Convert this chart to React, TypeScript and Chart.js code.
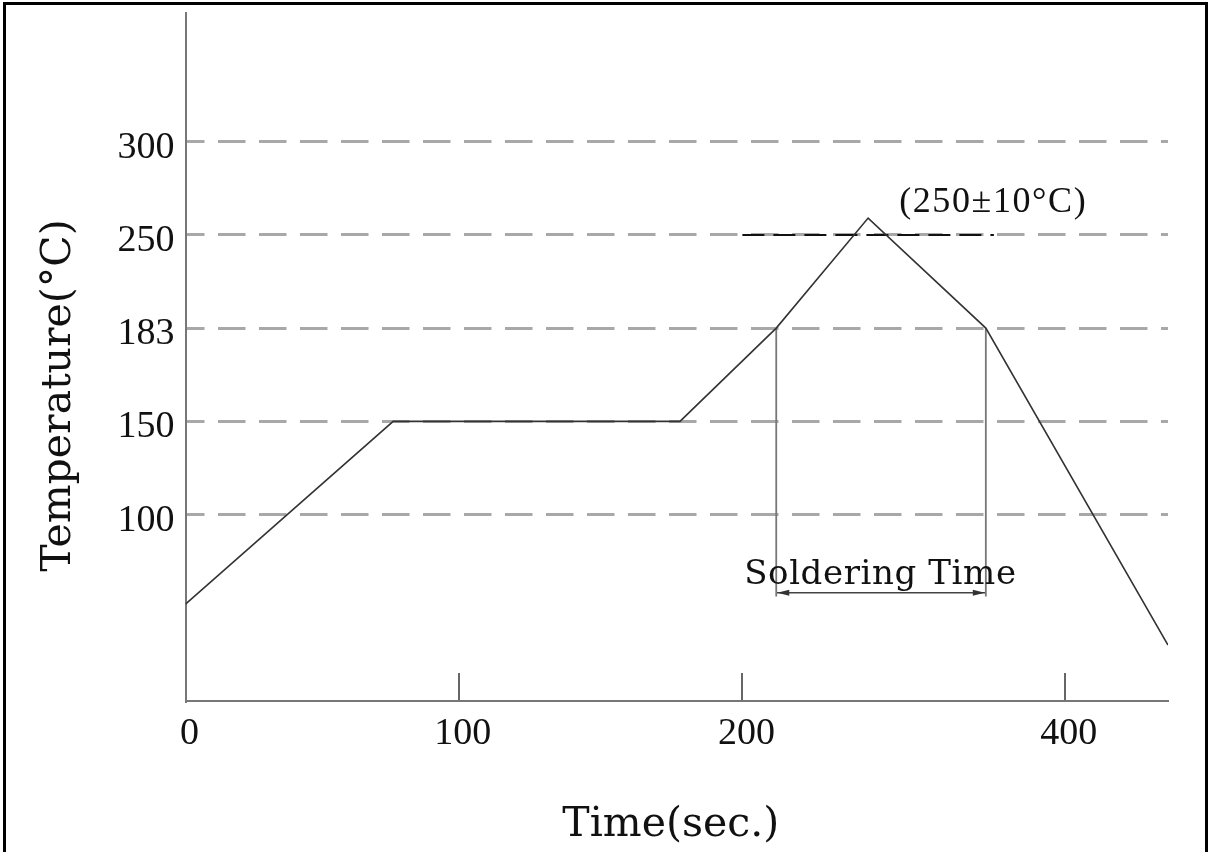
import React, { useEffect, useRef } from 'react';
import { Chart, registerables } from 'chart.js';

Chart.register(...registerables);

// ---- Reflow profile ----
const timeSec = [0, 76, 178, 221, 278, 351, 464];
const tempC = [52, 150, 150, 183, 259, 183, 30];

// ---- Axis ticks ----
const xTickValues = [0, 100, 200, 400];
const xTickLabels = ['0', '100', '200', '400'];
const yTickValues = [100, 150, 183, 250, 300];
const yTickLabels = ['100', '150', '183', '250', '300'];

// ---- Schematic (non-uniform) axis layout: slot of each labelled value along its axis ----
const xAxisSlots = [0, 1, 2.038, 3.218]; // for 0, 100, 200, 400 s
const yAnchorTemps = [0, 100, 150, 183, 250, 300];
const yAnchorSlots = [0, 2, 3, 4, 5, 6];
const xMaxSec = 464;
const yMaxTemp = 369;

// ---- Annotations ----
const peakRefTemp = 250;
const peakRefFrom = 200;
const peakRefTo = 356;
const solderFrom = 221;
const solderTo = 351;
const solderTopTemp = 183;
const markerBottomTemp = 56;
const bracketTemp = 58;
const peakLabel = '(250±10°C)';
const peakLabelSec = 355.6;
const peakLabelTemp = 262.5;
const solderLabel = 'Soldering Time';
const solderLabelSec = 285.6;
const solderLabelTemp = 63;
const xTitle = 'Time(sec.)';
const yTitle = 'Temperature(°C)';

function piecewise(v: number, from: number[], to: number[]) {
  const n = from.length;
  let i = 0;
  if (v <= from[0]) i = 0;
  else if (v >= from[n - 1]) i = n - 2;
  else {
    while (v > from[i + 1]) i++;
  }
  const t = (v - from[i]) / (from[i + 1] - from[i]);
  return to[i] + t * (to[i + 1] - to[i]);
}
const xPos = (s: number) => piecewise(s, xTickValues, xAxisSlots);
const yPos = (t: number) => piecewise(t, yAnchorTemps, yAnchorSlots);

const pts = (xs: number[], ys: number[]) => xs.map((x, i) => ({ x: xPos(x), y: yPos(ys[i]) }));

const tickFont = { family: '"Liberation Serif", serif', size: 38 };

const annotationPlugin = {
  id: 'annotations',
  beforeDraw(chart: any) {
    const ctx = chart.ctx;
    ctx.save();
    ctx.fillStyle = '#000';
    ctx.fillRect(3, 2, 3, 850);
    ctx.fillRect(3, 2, 1205, 3);
    ctx.fillRect(1205, 2, 3, 850);
    ctx.restore();
  },
  afterDraw(chart: any) {
    const ctx = chart.ctx;
    const xs = chart.scales.x;
    const ys = chart.scales.y;
    const area = chart.chartArea;
    const px = (s: number) => xs.getPixelForValue(xPos(s));
    const py = (t: number) => ys.getPixelForValue(yPos(t));

    ctx.save();
    // bracket arrowheads
    const by = py(bracketTemp);
    const x1 = px(solderFrom);
    const x2 = px(solderTo);
    ctx.fillStyle = '#333';
    ctx.beginPath();
    ctx.moveTo(x1 + 1, by);
    ctx.lineTo(x1 + 13, by - 3);
    ctx.lineTo(x1 + 13, by + 3);
    ctx.closePath();
    ctx.fill();
    ctx.beginPath();
    ctx.moveTo(x2 - 1, by);
    ctx.lineTo(x2 - 13, by - 3);
    ctx.lineTo(x2 - 13, by + 3);
    ctx.closePath();
    ctx.fill();

    ctx.fillStyle = '#111';
    ctx.textAlign = 'center';
    ctx.textBaseline = 'alphabetic';

    // soldering time label
    ctx.font = '34px "DejaVu Serif", serif';
    (ctx as any).letterSpacing = '0.6px';
    ctx.fillText(solderLabel, px(solderLabelSec), py(solderLabelTemp));

    // peak label
    ctx.font = '36px "Liberation Serif", serif';
    (ctx as any).letterSpacing = '1.6px';
    ctx.fillText(peakLabel, px(peakLabelSec), py(peakLabelTemp));

    // axis titles
    (ctx as any).letterSpacing = '0px';
    ctx.font = '41px "DejaVu Serif", serif';
    ctx.fillText(xTitle, (area.left + area.right) / 2 - 6, 836);
    ctx.translate(70, 395.5);
    ctx.rotate(-Math.PI / 2);
    ctx.fillText(yTitle, 0, 0);
    ctx.restore();
  },
};

export default function App() {
  const ref = useRef<HTMLCanvasElement | null>(null);

  useEffect(() => {
    if (!ref.current) return;
    const chart = new Chart(ref.current, {
      type: 'line',
      data: {
        datasets: [
          {
            label: 'Reflow profile',
            data: pts(timeSec, tempC),
            borderColor: '#333',
            borderWidth: 1.6,
            pointRadius: 0,
            tension: 0,
            order: 1,
          },
          {
            label: 'Peak reference',
            data: pts([peakRefFrom, peakRefTo], [peakRefTemp, peakRefTemp]),
            borderColor: '#111',
            borderWidth: 2,
            borderDash: [22, 9],
            pointRadius: 0,
            order: 2,
          },
          {
            label: 'Soldering start',
            data: pts([solderFrom, solderFrom], [solderTopTemp, markerBottomTemp]),
            borderColor: '#777',
            borderWidth: 1.8,
            pointRadius: 0,
            order: 3,
          },
          {
            label: 'Soldering end',
            data: pts([solderTo, solderTo], [solderTopTemp, markerBottomTemp]),
            borderColor: '#777',
            borderWidth: 1.8,
            pointRadius: 0,
            order: 3,
          },
          {
            label: 'Soldering time',
            data: pts([solderFrom, solderTo], [bracketTemp, bracketTemp]),
            borderColor: '#444',
            borderWidth: 1.5,
            pointRadius: 0,
            order: 3,
          },
        ],
      },
      options: {
        responsive: false,
        animation: false,
        events: [],
        layout: { padding: { left: 0, top: 13, right: 41, bottom: 0 } },
        plugins: {
          legend: { display: false },
          tooltip: { enabled: false },
          title: { display: false },
        },
        scales: {
          x: {
            type: 'linear',
            min: 0,
            max: xPos(xMaxSec),
            afterBuildTicks: (s: any) => {
              s.ticks = xTickValues.map((v) => ({ value: xPos(v) }));
            },
            afterFit: (s: any) => {
              s.height = 151;
              s.paddingLeft = 0;
              s.paddingRight = 0;
            },
            ticks: {
              callback: (_v: any, i: number) => xTickLabels[i],
              font: tickFont,
              color: '#111',
              padding: 38,
              labelOffset: 4,
              autoSkip: false,
              maxRotation: 0,
              minRotation: 0,
            },
            grid: {
              drawOnChartArea: false,
              drawTicks: true,
              tickLength: -28,
              color: '#666',
              lineWidth: 2,
            },
            border: { display: true, color: '#777', width: 2 },
          },
          y: {
            type: 'linear',
            min: 0,
            max: yPos(yMaxTemp),
            afterBuildTicks: (s: any) => {
              s.ticks = yTickValues.map((v) => ({ value: yPos(v) }));
            },
            afterFit: (s: any) => {
              s.width = 185.5;
              s.paddingTop = 0;
              s.paddingBottom = 0;
            },
            ticks: {
              callback: (_v: any, i: number) => yTickLabels[i],
              font: tickFont,
              color: '#111',
              padding: 11,
              labelOffset: 6,
              autoSkip: false,
            },
            grid: {
              drawTicks: false,
              color: '#a8a8a8',
              lineWidth: 3,
            },
            border: { display: true, color: '#777', width: 2, dash: [27.5, 13.5], dashOffset: 10 },
          },
        },
      } as any,
      plugins: [annotationPlugin],
    });
    return () => chart.destroy();
  }, []);

  return (
    <div style={{ position: 'fixed', left: 0, top: 0, width: 1209, height: 852, background: '#fff' }}>
      <canvas ref={ref} width={1209} height={852} style={{ display: 'block' }} />
    </div>
  );
}
